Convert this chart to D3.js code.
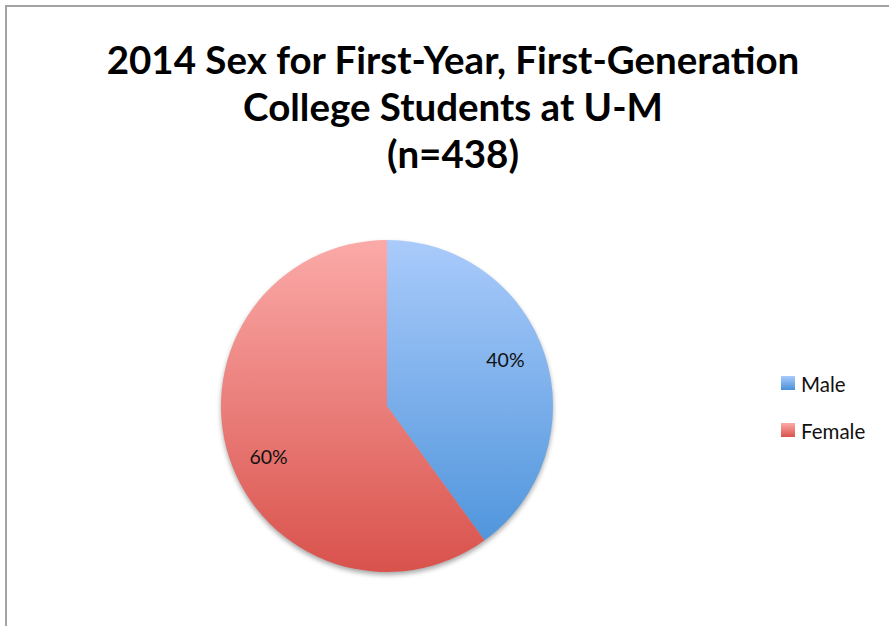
<!DOCTYPE html>
<html>
<head>
<meta charset="utf-8">
<script src="https://cdn.jsdelivr.net/npm/d3@7"></script>
<style>
  body { margin: 0; background: #fff; }
  text { font-family: Lato, "Open Sans", sans-serif; }
</style>
</head>
<body>
<div id="chart"></div>
<script>
// data
var categories = ["Male", "Female"];
var percents = [40, 60];
var titleLines = ["2014 Sex for First-Year, First-Generation", "College Students at U-M", "(n=438)"];

var topColors = ["#aacbfb", "#fbaaa8"];
var bottomColors = ["#4790d9", "#d9524c"];

var W = 889, H = 626;
var svg = d3.select("#chart").append("svg")
    .attr("width", W)
    .attr("height", H);

// chart area border (runs off the right and bottom)
svg.append("rect")
    .attr("x", 6).attr("y", 6)
    .attr("width", W + 10).attr("height", H + 10)
    .attr("fill", "white")
    .attr("stroke", "#a3a3a3")
    .attr("stroke-width", 2);

// title
svg.append("g")
    .selectAll("text")
    .data(titleLines)
    .enter()
    .append("text")
    .attr("x", 453)
    .attr("y", function(d, i) { return 74 + i * 47; })
    .attr("text-anchor", "middle")
    .attr("font-size", "38.5px")
    .attr("font-weight", "bold")
    .attr("fill", "#000")
    .text(function(d) { return d; });

var cx = 387, cy = 406, r = 166;

var defs = svg.append("defs");
categories.forEach(function(c, i) {
    var lg = defs.append("linearGradient")
        .attr("id", "grad" + i)
        .attr("gradientUnits", "userSpaceOnUse")
        .attr("x1", 0).attr("x2", 0)
        .attr("y1", -r).attr("y2", r);
    lg.append("stop").attr("offset", "0%").style("stop-color", topColors[i]);
    lg.append("stop").attr("offset", "100%").style("stop-color", bottomColors[i]);
});

var shadow = defs.append("filter").attr("id", "shadow")
    .attr("x", "-10%").attr("y", "-10%").attr("width", "120%").attr("height", "125%");
shadow.append("feGaussianBlur").attr("in", "SourceAlpha").attr("stdDeviation", 2.5);
shadow.append("feOffset").attr("dx", 0).attr("dy", 3).attr("result", "b");
shadow.append("feComponentTransfer").append("feFuncA").attr("type", "linear").attr("slope", 0.35);

var pie = d3.pie().sort(null).value(function(d) { return d; });
var arcs = pie(percents);
var arc = d3.arc().innerRadius(0).outerRadius(r);
var labelArc = d3.arc().innerRadius(r * 0.75).outerRadius(r * 0.75);

var g = svg.append("g").attr("transform", "translate(" + cx + "," + cy + ")");

g.append("circle").attr("r", r).attr("fill", "#000").attr("filter", "url(#shadow)");

g.selectAll("path.slice")
    .data(arcs)
    .enter()
    .append("path")
    .attr("class", "slice")
    .attr("d", arc)
    .attr("fill", function(d, i) { return "url(#grad" + i + ")"; });

g.selectAll("text.lbl")
    .data(arcs)
    .enter()
    .append("text")
    .attr("class", "lbl")
    .attr("transform", function(d) { return "translate(" + labelArc.centroid(d) + ")"; })
    .attr("dy", function(d, i) { return i == 0 ? "-0.05em" : "1.0em"; })
    .attr("text-anchor", "middle")
    .attr("font-size", "19.5px")
    .attr("fill", "#111")
    .text(function(d, i) { return percents[i] + "%"; });

// legend
var legend = svg.append("g").attr("transform", "translate(781,376)");
var item = legend.selectAll("g")
    .data(categories)
    .enter()
    .append("g")
    .attr("transform", function(d, i) { return "translate(0," + i * 47 + ")"; });

var lgrad = defs.selectAll("linearGradient.leg")
    .data(categories)
    .enter()
    .append("linearGradient")
    .attr("class", "leg")
    .attr("id", function(d, i) { return "lgrad" + i; })
    .attr("x1", "0%").attr("x2", "0%").attr("y1", "0%").attr("y2", "100%");
lgrad.append("stop").attr("offset", "0%").style("stop-color", function(d, i) { return topColors[i]; });
lgrad.append("stop").attr("offset", "100%").style("stop-color", function(d, i) { return bottomColors[i]; });

item.append("rect")
    .attr("width", 14).attr("height", 14)
    .attr("fill", function(d, i) { return "url(#lgrad" + i + ")"; });

item.append("text")
    .attr("x", 20)
    .attr("y", 16)
    .attr("font-size", "20.5px")
    .attr("fill", "#111")
    .text(function(d) { return d; });
</script>
</body>
</html>
